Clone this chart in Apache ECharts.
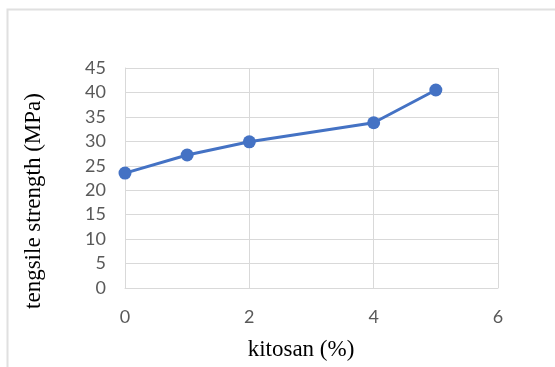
<!DOCTYPE html>
<html>
<head>
<meta charset="utf-8">
<script src="https://cdn.jsdelivr.net/npm/echarts@6/dist/echarts.min.js"></script>
<style>
  html, body { margin: 0; padding: 0; background: #fff; }
  #chart { width: 555px; height: 367px; }
</style>
</head>
<body>
<div id="chart"></div>
<script>
// Chitosan concentration (%) and measured tensile strength (MPa)
const kitosanPercent = [0, 1, 2, 4, 5];
const tensileStrength = [23.5, 27.2, 29.9, 33.8, 40.5];
const xTicks = [0, 2, 4, 6];
const yTicks = [0, 5, 10, 15, 20, 25, 30, 35, 40, 45];

const xTitle = 'kitosan (%)';
const yTitle = 'tengsile strength (MPa)';

const gridColor = '#d9d9d9';
const tickColor = '#595959';
const lineColor = '#4472C4';

const chart = echarts.init(document.getElementById('chart'), null, { renderer: 'canvas' });

chart.setOption({
  animation: false,
  backgroundColor: '#ffffff',
  grid: { left: 125, top: 68, width: 373, height: 220, containLabel: false },
  xAxis: {
    type: 'value',
    min: xTicks[0],
    max: xTicks[xTicks.length - 1],
    interval: xTicks[1] - xTicks[0],
    axisLine: { show: true, lineStyle: { color: gridColor, width: 1 } },
    axisTick: { show: false },
    splitLine: { show: true, lineStyle: { color: gridColor, width: 1 } },
    axisLabel: {
      color: tickColor,
      fontFamily: 'Lato',
      fontSize: 18,
      margin: 20
    }
  },
  yAxis: {
    type: 'value',
    min: yTicks[0],
    max: yTicks[yTicks.length - 1],
    interval: yTicks[1] - yTicks[0],
    axisLine: { show: true, lineStyle: { color: gridColor, width: 1 } },
    axisTick: { show: false },
    splitLine: { show: true, lineStyle: { color: gridColor, width: 1 } },
    axisLabel: {
      color: tickColor,
      fontFamily: 'Lato',
      fontSize: 18,
      margin: 19
    }
  },
  series: [{
    type: 'line',
    data: kitosanPercent.map((x, i) => [x, tensileStrength[i]]),
    symbol: 'circle',
    symbolSize: 13,
    lineStyle: { color: lineColor, width: 3 },
    itemStyle: { color: lineColor },
    clip: false
  }],
  graphic: [
    {
      // chart frame (continues past the right and bottom edges)
      type: 'rect',
      shape: { x: 7.5, y: 9.5, width: 700, height: 500 },
      style: { fill: null, stroke: '#e0e0e0', lineWidth: 2 },
      silent: true,
      z: -1
    },
    {
      type: 'text',
      x: 301,
      y: 350,
      style: {
        text: xTitle,
        fill: '#000',
        font: '23px "Liberation Serif"',
        textAlign: 'center',
        textVerticalAlign: 'middle'
      }
    },
    {
      type: 'text',
      x: 34,
      y: 201,
      rotation: Math.PI / 2,
      style: {
        text: yTitle,
        fill: '#000',
        font: '23px "Liberation Serif"',
        textAlign: 'center',
        textVerticalAlign: 'middle'
      }
    }
  ]
});
</script>
</body>
</html>
